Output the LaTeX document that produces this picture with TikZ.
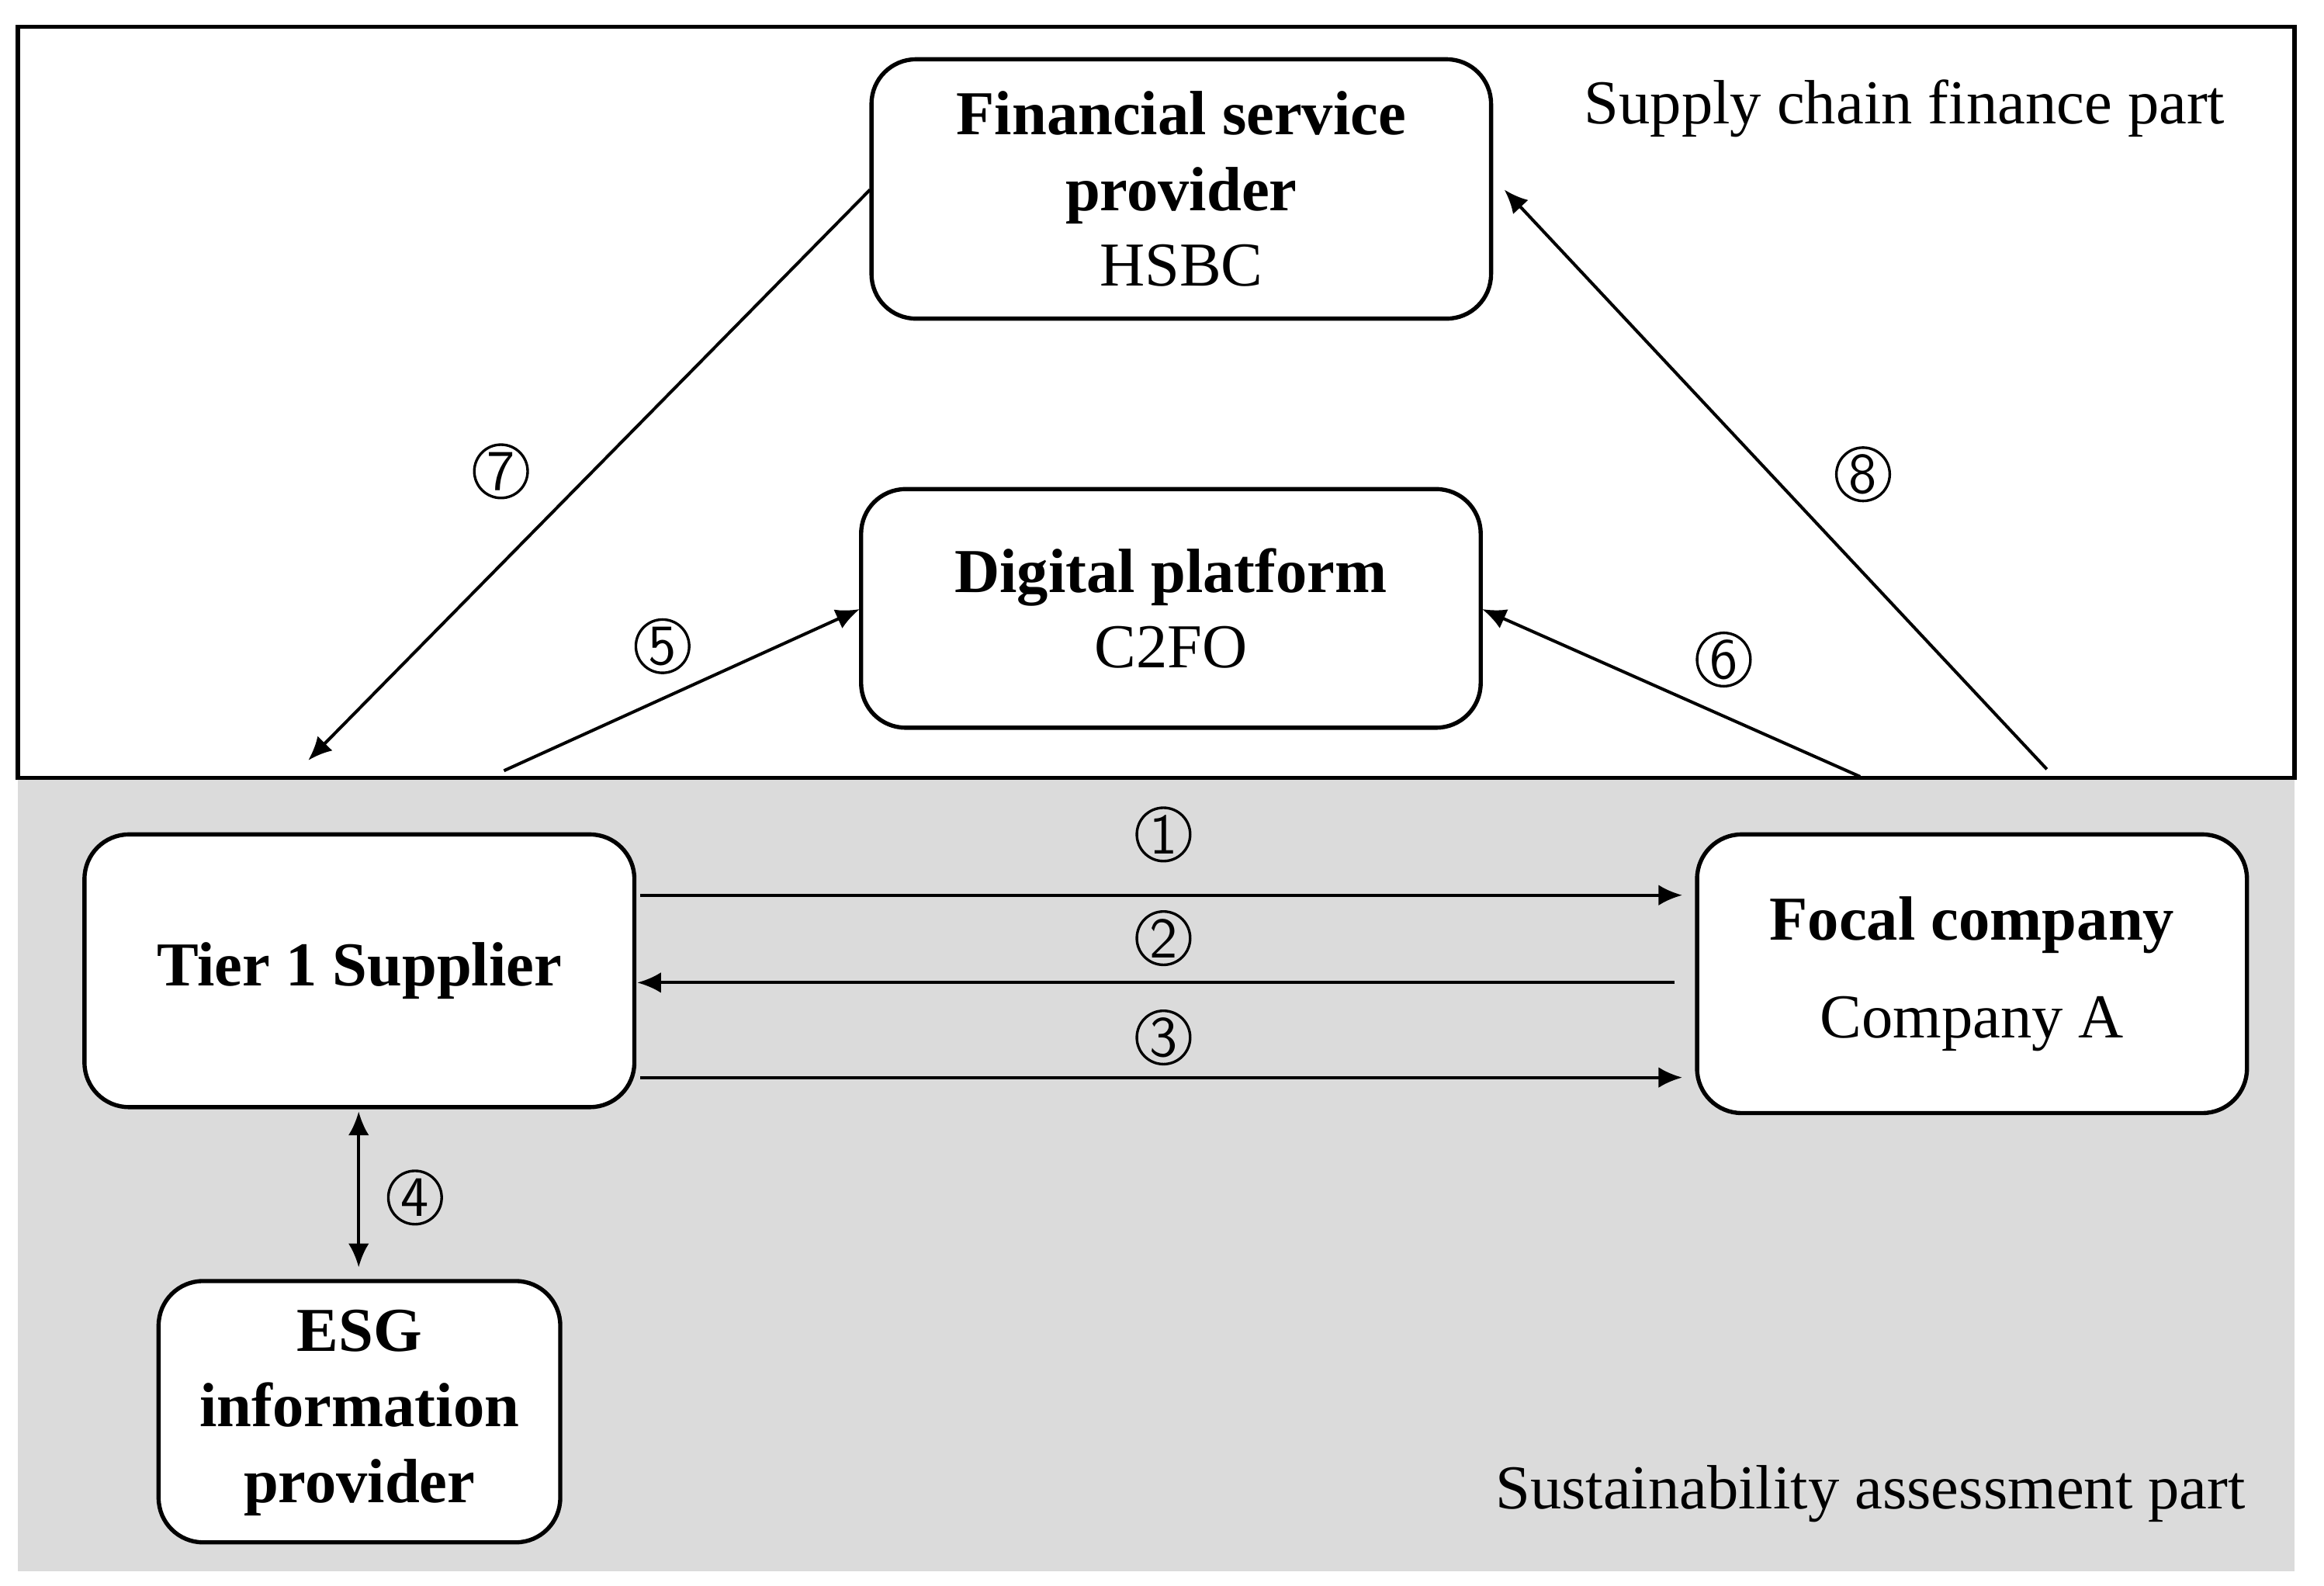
\documentclass[tikz,border=0pt]{standalone}
\usepackage{fontspec}
\setmainfont{Liberation Serif}
\usetikzlibrary{arrows.meta}
\begin{document}
\begin{tikzpicture}[
  box/.style={draw, rounded corners=0.3cm, line width=0.8pt, fill=white, align=center, font=\fontsize{12}{14.5}\selectfont},
  num/.style={draw, circle, line width=0.5pt, inner sep=0pt, minimum size=0.36cm, font=\fontfamily{lmss}\fontsize{11}{11}\selectfont},
  arr/.style={-{Latex[length=1.6mm,width=1.4mm]}, line width=0.6pt},
  lab/.style={font=\fontsize{12}{14}\selectfont}
]
\useasboundingbox (0,0) rectangle (15.68,10.70);
\fill[gray!28] (0.12,0.10) rectangle (15.48,5.45);
\draw[line width=0.8pt] (0.12,5.45) rectangle (15.48,10.52);

\node[box, minimum width=4.18cm, minimum height=1.75cm] (fsp) at (7.97,9.425) {\textbf{Financial service}\\\textbf{provider}\\HSBC};
\node[box, minimum width=4.18cm, minimum height=1.61cm] (dp) at (7.90,6.595) {\textbf{Digital platform}\\C2FO};
\node[box, minimum width=3.71cm, minimum height=1.84cm] (t1) at (2.425,4.15) {\raisebox{-0.07cm}{\textbf{Tier 1 Supplier}}};
\node[box, minimum width=3.71cm, minimum height=1.88cm] (fc) at (13.305,4.13) {\raisebox{-0.15cm}{\begin{tabular}{@{}c@{}}\textbf{Focal company}\\[0.15cm]Company A\end{tabular}}};
\node[box, minimum width=2.71cm, minimum height=1.69cm] (esg) at (2.425,1.175) {\raisebox{-0.07cm}{\begin{tabular}{@{}c@{}}\textbf{ESG}\\\textbf{information}\\\textbf{provider}\end{tabular}}};

\node[lab] (scf) at (12.85,9.97) {Supply chain finance part};
\node[lab] (sap) at (12.62,0.62) {Sustainability assessment part};

\coordinate (a7s) at (5.87,9.42); \coordinate (a7e) at (2.08,5.57);
\coordinate (a5s) at (3.40,5.50); \coordinate (a5e) at (5.80,6.59);
\coordinate (a8s) at (13.81,5.51); \coordinate (a8e) at (10.15,9.42);
\coordinate (a6s) at (12.55,5.46); \coordinate (a6e) at (10.00,6.59);
\coordinate (a1s) at (4.32,4.66); \coordinate (a1e) at (11.35,4.66);
\coordinate (a2s) at (11.30,4.07); \coordinate (a2e) at (4.30,4.07);
\coordinate (a3s) at (4.32,3.43); \coordinate (a3e) at (11.35,3.43);
\coordinate (a4s) at (2.42,3.20); \coordinate (a4e) at (2.42,2.15);

\draw[arr] (a7s) -- (a7e);
\draw[arr] (a5s) -- (a5e);
\draw[arr] (a8s) -- (a8e);
\draw[arr] (a6s) -- (a6e);
\draw[arr] (a1s) -- (a1e);
\draw[arr] (a2s) -- (a2e);
\draw[arr] (a3s) -- (a3e);
\draw[{Latex[length=1.6mm,width=1.4mm]}-{Latex[length=1.6mm,width=1.4mm]}, line width=0.6pt] (a4s) -- (a4e);

\node[num] (n1) at (7.85,5.07) {1};
\node[num] (n2) at (7.85,4.37) {2};
\node[num] (n3) at (7.85,3.70) {3};
\node[num] (n4) at (2.80,2.62) {4};
\node[num] (n5) at (4.47,6.34) {5};
\node[num] (n6) at (11.63,6.25) {6};
\node[num] (n7) at (3.38,7.52) {7};
\node[num] (n8) at (12.57,7.50) {8};
\end{tikzpicture}
\end{document}
